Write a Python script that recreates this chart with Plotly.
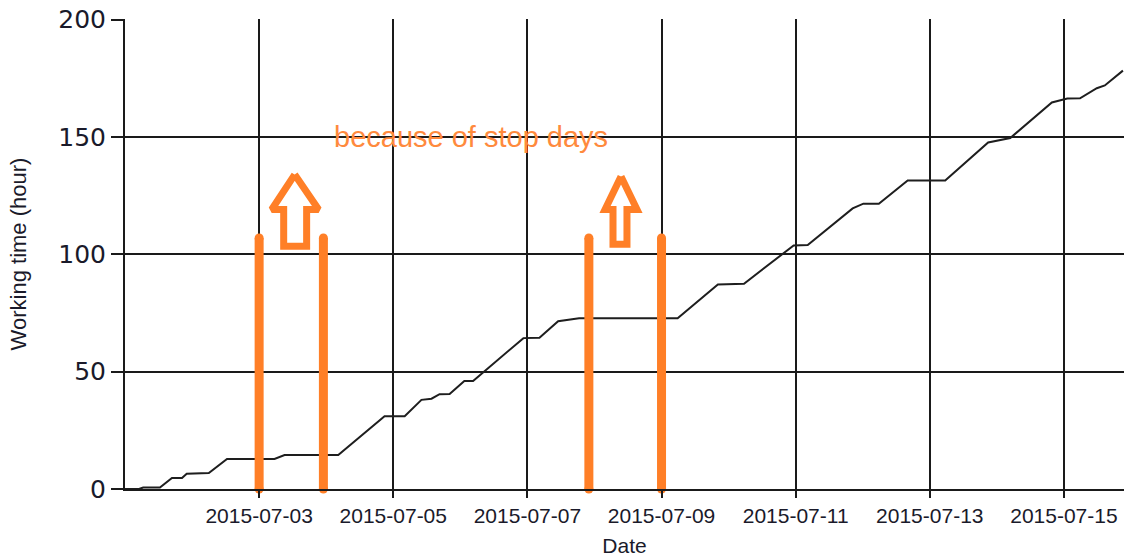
import plotly.graph_objects as go

# ---- data ----
work_dates = [
    "2015-07-01 00:00", "2015-07-01 05:00", "2015-07-01 06:30", "2015-07-01 12:30",
    "2015-07-01 16:48", "2015-07-01 20:24", "2015-07-01 22:05", "2015-07-02 06:00",
    "2015-07-02 12:30", "2015-07-03 05:30", "2015-07-03 09:06", "2015-07-04 04:19",
    "2015-07-04 20:53", "2015-07-05 04:05", "2015-07-05 10:05", "2015-07-05 13:41",
    "2015-07-05 16:34", "2015-07-05 20:10", "2015-07-06 01:26", "2015-07-06 04:34",
    "2015-07-06 22:34", "2015-07-07 04:19", "2015-07-07 11:00", "2015-07-07 16:48",
    "2015-07-07 18:30", "2015-07-09 05:46", "2015-07-09 20:10", "2015-07-10 05:31",
    "2015-07-10 23:17", "2015-07-11 04:19", "2015-07-11 20:24", "2015-07-12 00:14",
    "2015-07-12 05:46", "2015-07-12 16:05", "2015-07-13 05:31", "2015-07-13 20:53",
    "2015-07-14 04:48", "2015-07-14 19:41", "2015-07-15 01:12", "2015-07-15 05:46",
    "2015-07-15 11:46", "2015-07-15 14:38", "2015-07-15 21:07",
]
work_hours = [
    0, 0, 0.6, 0.6,
    4.7, 4.7, 6.5, 6.8,
    12.8, 12.8, 14.5, 14.5,
    31, 31, 38, 38.5,
    40.4, 40.5, 46, 46,
    64.3, 64.5, 71.5, 72.3,
    72.8, 72.8, 87.2, 87.5,
    103.8, 104, 119.6, 121.6,
    121.6, 131.5, 131.5, 147.7,
    149.6, 164.7, 166.4, 166.5,
    170.8, 172, 178.3,
]

# hand-drawn orange markers around the stop days
stop_mark_dates = ["2015-07-03 00:00", "2015-07-03 23:00", "2015-07-07 22:00", "2015-07-09 00:00"]
stop_mark_top = 107

arrow1_x = ["2015-07-03 12:43", "2015-07-03 21:17", "2015-07-03 17:00", "2015-07-03 17:00",
            "2015-07-03 08:47", "2015-07-03 08:47", "2015-07-03 04:30", "2015-07-03 12:43"]
arrow1_y = [134.0, 119.1, 119.1, 103.4, 103.4, 119.1, 119.1, 134.0]
arrow2_x = ["2015-07-08 09:30", "2015-07-08 15:13", "2015-07-08 11:38", "2015-07-08 11:38",
            "2015-07-08 06:38", "2015-07-08 06:38", "2015-07-08 03:47", "2015-07-08 09:30"]
arrow2_y = [133.2, 119.1, 119.1, 104.3, 104.3, 119.1, 119.1, 133.2]

note_text = "because of stop days"
note_date = "2015-07-06 03:50"
note_value = 150

x_tick_dates = ["2015-07-03", "2015-07-05", "2015-07-07", "2015-07-09",
                "2015-07-11", "2015-07-13", "2015-07-15"]
y_ticks = [0, 50, 100, 150, 200]
x_range = ["2015-07-01 00:00", "2015-07-15 21:30"]
y_range = [0, 200.3]

ORANGE = "#ff7f27"
FONT = "Liberation Sans"
TXT = "#1a1a2a"

fig = go.Figure()

fig.add_trace(go.Scatter(
    x=work_dates, y=work_hours, mode="lines",
    line=dict(color="#1e1e1e", width=2), showlegend=False, hoverinfo="skip"))

for d in stop_mark_dates:
    fig.add_trace(go.Scatter(
        x=[d, d], y=[0, stop_mark_top], mode="lines+markers",
        line=dict(color=ORANGE, width=9),
        marker=dict(color=ORANGE, size=9, line=dict(width=0)),
        showlegend=False, hoverinfo="skip", cliponaxis=False))

for ax_x, ax_y in ((arrow1_x, arrow1_y), (arrow2_x, arrow2_y)):
    fig.add_trace(go.Scatter(
        x=ax_x, y=ax_y, mode="lines",
        line=dict(color=ORANGE, width=7),
        showlegend=False, hoverinfo="skip"))

fig.add_annotation(
    x=note_date, y=note_value, text=note_text, showarrow=False,
    xanchor="center", yanchor="middle",
    font=dict(family=FONT, size=29, color="#ff8a3d"))

fig.update_layout(
    width=1124, height=558,
    margin=dict(l=125, r=0, t=19, b=69, autoexpand=False),
    paper_bgcolor="white", plot_bgcolor="white",
    font=dict(family=FONT, color="#1a1a1a"),
    showlegend=False,
)

fig.update_xaxes(
    type="date", range=x_range, automargin=False,
    tickvals=x_tick_dates, ticktext=x_tick_dates,
    showgrid=True, gridcolor="#1a1a1a", gridwidth=2,
    showline=True, linecolor="#1a1a1a", linewidth=2,
    ticks="outside", ticklen=7, tickwidth=2, tickcolor="#1a1a1a",
    tickfont=dict(family=FONT, size=21, color=TXT),
    title=dict(text="Date", font=dict(family=FONT, size=21, color=TXT), standoff=12),
    zeroline=False,
)
fig.update_yaxes(
    range=y_range, tickvals=y_ticks, automargin=False,
    ticklabeloverflow="allow",
    showgrid=True, gridcolor="#1a1a1a", gridwidth=2,
    showline=True, linecolor="#1a1a1a", linewidth=2,
    ticks="outside", ticklen=12, tickwidth=2, tickcolor="#1a1a1a",
    tickfont=dict(family="DejaVu Sans", size=25, color=TXT),
    title=dict(text="Working time (hour)", font=dict(family=FONT, size=22, color=TXT), standoff=26),
    zeroline=False,
)

# remove the page's default body margin so the figure fills the window exactly
fig.write_html("out.html",
               config={"displayModeBar": False},
               post_script="document.body.style.margin='0';document.body.style.overflow='hidden';")
